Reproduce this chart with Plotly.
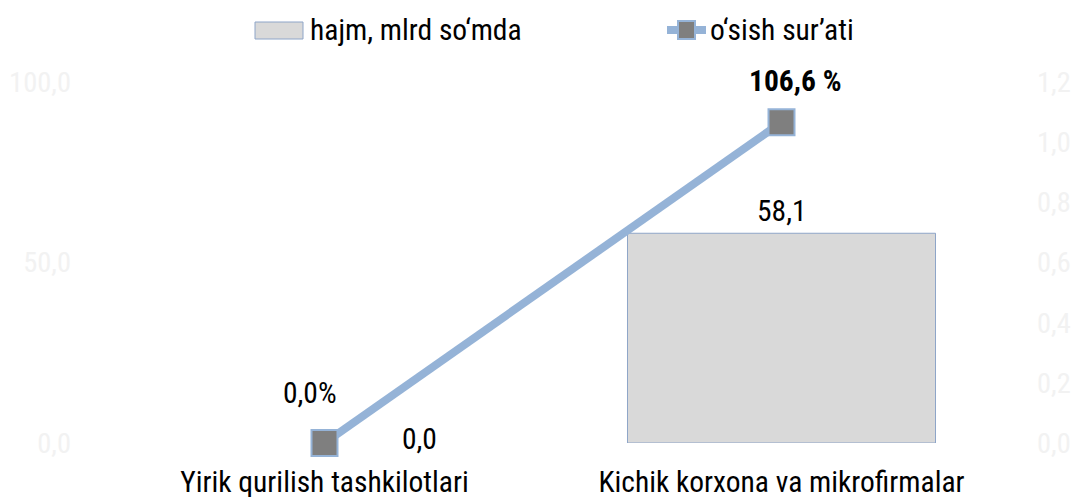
import plotly.graph_objects as go

categories = ["Yirik qurilish tashkilotlari", "Kichik korxona va mikrofirmalar"]
volume = [0.0, 58.1]          # hajm, mlrd so'mda
growth = [0.0, 1.066]         # o'sish sur'ati (fraction)
left_ticks = [0, 50, 100]
right_ticks = [0, 0.2, 0.4, 0.6, 0.8, 1.0, 1.2]
series_names = ["hajm, mlrd so‘mda", "o‘sish sur’ati"]

FONT = "Roboto Condensed, Liberation Sans Narrow, Roboto, sans-serif"
FS = 29.5
fmt = lambda v: f"{v:.1f}".replace(".", ",")

BAR_FILL, BAR_EDGE = "#d9d9d9", "#8ea5c8"
LINE_COL, MARK_COL = "#95b3d7", "#7f7f7f"

L, R, T, B = 96, 65, 82, 54
W, H = 1075, 497
PW, PH = W - L - R, H - T - B

def px_x(px):
    return (px - L) / PW

def px_y(py):
    return (H - B - py) / PH

fig = go.Figure()
fig.add_trace(go.Bar(
    x=categories, y=volume, name=series_names[0],
    width=0.674,
    marker=dict(color=BAR_FILL, line=dict(color=BAR_EDGE, width=[1 if v > 0 else 0 for v in volume])),
    yaxis="y", hoverinfo="skip", showlegend=False,
))
fig.add_trace(go.Scatter(
    x=categories, y=growth, name=series_names[1], yaxis="y2",
    mode="lines+markers",
    line=dict(color=LINE_COL, width=8),
    marker=dict(symbol="square", size=26, color=MARK_COL, line=dict(color=LINE_COL, width=2)),
    hoverinfo="skip", showlegend=False, cliponaxis=False,
))

tf = dict(family=FONT, size=FS, color="#000")
annotations = [
    dict(x=categories[0], y=volume[0], xref="x", yref="y", text=fmt(volume[0]),
         showarrow=False, xshift=95, yshift=4, yanchor="middle", font=tf),
    dict(x=categories[1], y=volume[1], xref="x", yref="y", text=fmt(volume[1]),
         showarrow=False, yshift=22, yanchor="middle", font=tf),
    dict(x=categories[0], y=growth[0], xref="x", yref="y2", text=fmt(growth[0] * 100) + "%",
         showarrow=False, xshift=-15, yshift=50, yanchor="middle", font=tf),
    dict(x=categories[1], y=growth[1], xref="x", yref="y2", text="<b>" + fmt(growth[1] * 100) + " %</b>",
         showarrow=False, xshift=13, yshift=41, yanchor="middle", font=tf),
    # legend texts
    dict(x=px_x(308), y=px_y(30), xref="paper", yref="paper", text=series_names[0],
         showarrow=False, xanchor="left", yanchor="middle", font=tf),
    dict(x=px_x(708), y=px_y(30), xref="paper", yref="paper", text=series_names[1],
         showarrow=False, xanchor="left", yanchor="middle", font=tf),
]

shapes = [
    # legend: bar swatch
    dict(type="rect", xref="paper", yref="paper", x0=px_x(255), x1=px_x(303), y0=px_y(39), y1=px_y(22),
         fillcolor=BAR_FILL, line=dict(color=BAR_EDGE, width=1)),
    # legend: line swatch
    dict(type="line", xref="paper", yref="paper", x0=px_x(667), x1=px_x(706), y0=px_y(30), y1=px_y(30),
         line=dict(color=LINE_COL, width=8)),
    dict(type="rect", xref="paper", yref="paper", x0=px_x(678), x1=px_x(695), y0=px_y(39), y1=px_y(21),
         fillcolor=MARK_COL, line=dict(color=LINE_COL, width=2)),
]

fig.update_layout(
    width=W, height=H,
    margin=dict(l=L, r=R, t=T, b=B),
    paper_bgcolor="white", plot_bgcolor="white",
    font=dict(family=FONT, size=FS, color="#000"),
    xaxis=dict(type="category", range=[-0.5, 1.5], showgrid=False, showline=False, zeroline=False,
               ticks="", tickfont=tf, automargin=False, ticklabelstandoff=18),
    yaxis=dict(range=[0, 100], tickvals=left_ticks, ticktext=[fmt(v) for v in left_ticks],
               showgrid=False, zeroline=False, showline=False, automargin=False,
               tickfont=dict(family=FONT, size=FS - 1, color="#f2f2f2"), ticklabelstandoff=24),
    yaxis2=dict(range=[0, 1.2], overlaying="y", side="right", tickvals=right_ticks,
                ticktext=[fmt(v) for v in right_ticks], showgrid=False, zeroline=False, showline=False,
                automargin=False, tickfont=dict(family=FONT, size=FS - 1, color="#f2f2f2"),
                ticklabelstandoff=26),
    showlegend=False,
    hovermode=False,
    annotations=annotations,
    shapes=shapes,
)

fig.write_html("out.html", config={"displayModeBar": False},
               post_script="document.body.style.margin='0';")
